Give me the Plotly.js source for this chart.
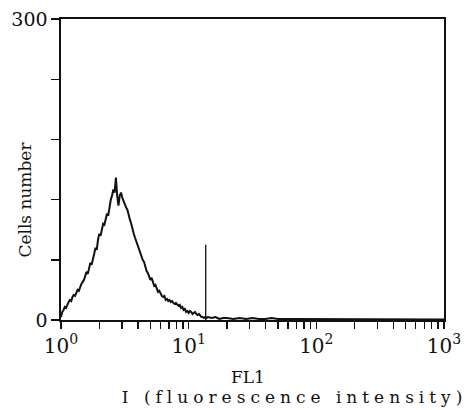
<!DOCTYPE html>
<html>
<head>
<meta charset="utf-8">
<script src="https://cdn.plot.ly/plotly-3.0.1.min.js"></script>
<style>
html,body{margin:0;padding:0;background:#fff;}
#chart{width:473px;height:410px;}
</style>
</head>
<body>
<div id="chart"></div>
<script>
// Fluorescence intensity (FL1) bin positions
const fl1 = [
  1.000,1.023,1.047,1.072,1.096,1.122,1.148,1.175,1.202,1.230,
  1.259,1.288,1.318,1.349,1.380,1.413,1.445,1.479,1.514,1.549,
  1.585,1.622,1.660,1.698,1.738,1.778,1.820,1.862,1.905,1.950,
  1.995,2.042,2.089,2.138,2.188,2.239,2.291,2.344,2.399,2.455,
  2.512,2.570,2.630,2.692,2.754,2.818,2.884,2.951,3.020,3.090,
  3.162,3.236,3.311,3.388,3.467,3.548,3.631,3.715,3.802,3.890,
  3.981,4.074,4.169,4.266,4.365,4.467,4.571,4.677,4.786,4.898,
  5.012,5.129,5.248,5.370,5.495,5.623,5.754,5.888,6.026,6.166,
  6.310,6.457,6.607,6.761,6.918,7.079,7.244,7.413,7.586,7.762,
  7.943,8.128,8.318,8.511,8.710,8.913,9.120,9.333,9.550,9.772,
  10.00,10.23,10.47,10.72,10.96,11.22,11.48,11.75,12.02,12.30,
  12.59,12.88,13.18,13.49,13.80,14.13,
  15.14,16.22,17.38,18.62,19.95,22.39,25.12,28.18,31.62,35.48,
  39.81,44.67,50.12,63.10,79.43,100.0,125.9,158.5,223.9,316.2,
  446.7,631.0,794.3,1000
];
// Cell counts per bin
const cells = [
  3,8,10,13,12,16,18,20,19,23,
  25,24,28,30,29,33,36,38,40,44,
  48,46,53,57,55,62,66,72,70,80,
  86,84,92,96,95,102,106,104,114,120,
  124,130,127,142,124,114,124,127,122,118,
  116,112,110,104,100,96,90,86,82,78,
  74,71,68,64,60,58,52,49,47,44,
  40,42,37,34,35,30,28,29,26,24,
  23,24,20,21,19,20,18,19,17,16,
  17,15,14,15,12,13,10,11,8,9,
  7,9,8,6,7,8,6,5,6,4,
  3,3,2,3,2,3,
  2,3,1,2,2,1,2,1,2,1,
  1,2,1,1,1,0.5,1,0.5,1,0.5,
  0.5,0.5,0.5,0.5
];
// gate marker
const markerX = [13.6, 13.6];
const markerY = [0, 75];
// tick labels
const yTickVals = [0,60,120,180,240,300];
const yTickText = ['0','','','','','300'];
const xTickVals = [1,2,3,4,5,6,7,8,9,10,20,30,40,50,60,70,80,90,100,200,300,400,500,600,700,800,900,1000];
const xTickText = ['10<sup>0</sup>','','','','','','','','','10<sup>1</sup>','','','','','','','','','10<sup>2</sup>','','','','','','','','','10<sup>3</sup>'];
const xTitle = 'FL1';
const xSubTitle = 'I (fluorescence intensity)';
const yTitle = 'Cells number';

const serif = 'DejaVu Serif';
const traces = [
  {x: fl1, y: cells, type: 'scatter', mode: 'lines', line: {color: '#111', width: 2}, hoverinfo: 'skip'},
  {x: markerX, y: markerY, type: 'scatter', mode: 'lines', line: {color: '#111', width: 1.3}, hoverinfo: 'skip'}
];
const layout = {
  width: 473, height: 410,
  margin: {l: 61, r: 29, t: 19, b: 90},
  paper_bgcolor: '#fff', plot_bgcolor: '#fff',
  showlegend: false,
  font: {family: serif, color: '#111'},
  xaxis: {
    type: 'log', range: [0, 3], showgrid: false, zeroline: false,
    showline: true, mirror: true, linecolor: '#111', linewidth: 1.6,
    ticks: 'outside', ticklen: 7, tickwidth: 1.4, tickcolor: '#111',
    tickvals: xTickVals, ticktext: xTickText,
    tickfont: {family: serif, size: 20, color: '#111'}
  },
  yaxis: {
    range: [0, 300], showgrid: false, zeroline: false,
    showline: true, mirror: true, linecolor: '#111', linewidth: 1.6,
    ticks: 'outside', ticklen: 8, tickwidth: 1.4, tickcolor: '#111',
    tickvals: yTickVals, ticktext: yTickText, ticklabelstandoff: 0,
    tickfont: {family: serif, size: 19, color: '#111'}
  },
  annotations: [
    {text: xTitle, xref: 'paper', yref: 'paper', x: 0.488, y: -0.19, xanchor: 'center', yanchor: 'middle', showarrow: false, font: {family: serif, size: 17, color: '#111'}},
    {text: xSubTitle, xref: 'paper', yref: 'paper', x: 0.61, y: -0.256, xanchor: 'center', yanchor: 'middle', showarrow: false, font: {family: serif, size: 17, color: '#111'}},
    {text: yTitle, xref: 'paper', yref: 'paper', x: -0.094, y: 0.40, xanchor: 'center', yanchor: 'middle', textangle: -90, showarrow: false, font: {family: serif, size: 17, color: '#111'}}
  ]
};
Plotly.newPlot('chart', traces, layout, {staticPlot: true}).then(function(){
  document.querySelectorAll('.annotation-text').forEach(function(t){
    if (t.textContent === xSubTitle) { t.style.letterSpacing = '5px'; }
  });
});
</script>
</body>
</html>
